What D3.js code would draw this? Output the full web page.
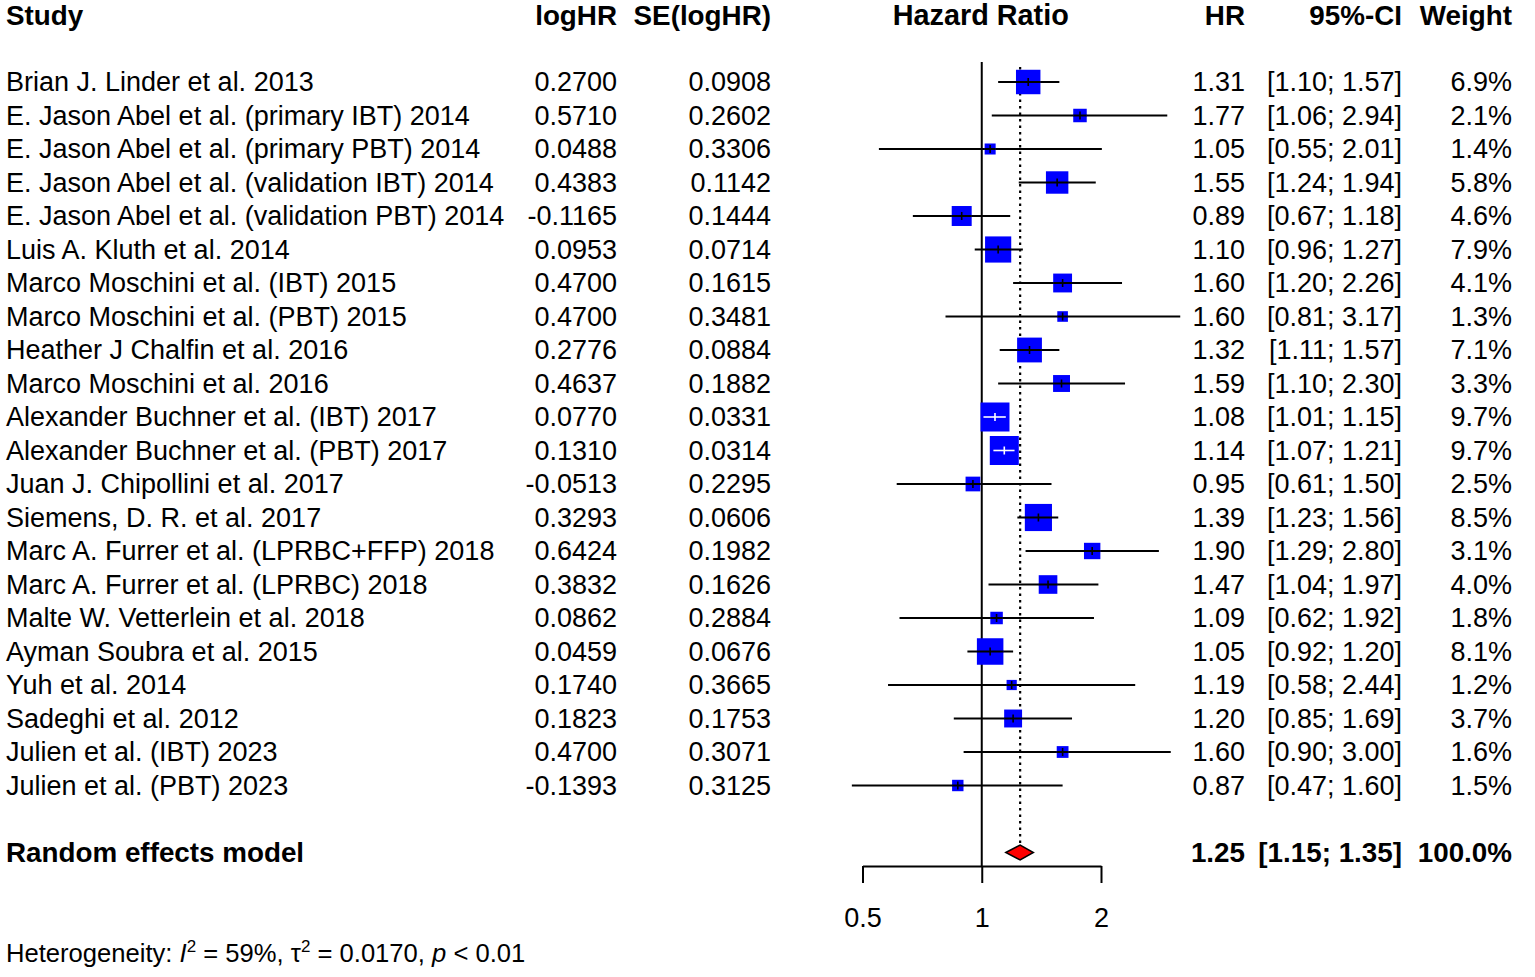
<!DOCTYPE html>
<html>
<head>
<meta charset="utf-8">
<script src="https://cdn.jsdelivr.net/npm/d3@7"></script>
<style>
html,body{margin:0;padding:0;background:#fff;}
svg text{font-family:"Liberation Sans",Arial,sans-serif;fill:#000;}
</style>
</head>
<body>
<svg id="chart" width="1535" height="977"></svg>
<script>
const studies = [
  "Brian J. Linder et al. 2013",
  "E. Jason Abel et al. (primary IBT) 2014",
  "E. Jason Abel et al. (primary PBT) 2014",
  "E. Jason Abel et al. (validation IBT) 2014",
  "E. Jason Abel et al. (validation PBT) 2014",
  "Luis A. Kluth et al. 2014",
  "Marco Moschini et al. (IBT) 2015",
  "Marco Moschini et al. (PBT) 2015",
  "Heather J Chalfin et al. 2016",
  "Marco Moschini et al. 2016",
  "Alexander Buchner et al. (IBT) 2017",
  "Alexander Buchner et al. (PBT) 2017",
  "Juan J. Chipollini et al. 2017",
  "Siemens, D. R. et al. 2017",
  "Marc A. Furrer et al. (LPRBC+FFP) 2018",
  "Marc A. Furrer et al. (LPRBC) 2018",
  "Malte W. Vetterlein et al. 2018",
  "Ayman Soubra et al. 2015",
  "Yuh et al. 2014",
  "Sadeghi et al. 2012",
  "Julien et al. (IBT) 2023",
  "Julien et al. (PBT) 2023"
];
const logHR = ["0.2700","0.5710","0.0488","0.4383","-0.1165","0.0953","0.4700","0.4700","0.2776","0.4637","0.0770","0.1310","-0.0513","0.3293","0.6424","0.3832","0.0862","0.0459","0.1740","0.1823","0.4700","-0.1393"];
const seLogHR = ["0.0908","0.2602","0.3306","0.1142","0.1444","0.0714","0.1615","0.3481","0.0884","0.1882","0.0331","0.0314","0.2295","0.0606","0.1982","0.1626","0.2884","0.0676","0.3665","0.1753","0.3071","0.3125"];
const hr = [1.31,1.77,1.05,1.55,0.89,1.10,1.60,1.60,1.32,1.59,1.08,1.14,0.95,1.39,1.90,1.47,1.09,1.05,1.19,1.20,1.60,0.87];
const ciLow = [1.10,1.06,0.55,1.24,0.67,0.96,1.20,0.81,1.11,1.10,1.01,1.07,0.61,1.23,1.29,1.04,0.62,0.92,0.58,0.85,0.90,0.47];
const ciHigh = [1.57,2.94,2.01,1.94,1.18,1.27,2.26,3.17,1.57,2.30,1.15,1.21,1.50,1.56,2.80,1.97,1.92,1.20,2.44,1.69,3.00,1.60];
const weight = [6.9,2.1,1.4,5.8,4.6,7.9,4.1,1.3,7.1,3.3,9.7,9.7,2.5,8.5,3.1,4.0,1.8,8.1,1.2,3.7,1.6,1.5];
const pooled = {label:"Random effects model", hr:1.25, low:1.15, high:1.35, weight:"100.0%"};
const axisTicks = [0.5, 1, 2];
const headers = {study:"Study", logHR:"logHR", se:"SE(logHR)", plot:"Hazard Ratio", hr:"HR", ci:"95%-CI", w:"Weight"};

const svg = d3.select("#chart");
const FS = 27;
const FSB = 27.8;
const rowH = 33.5, y0 = 15;
const rowY = i => y0 + rowH * (i + 2);
const pooledY = y0 + rowH * 25;
const x = d3.scaleLog().domain([0.5, 2]).range([862.5, 1101]);
const maxW = d3.max(weight);
const boxSize = w => 29 * Math.sqrt(w / maxW);

const col = {study:6, logHR:617, se:771, hr:1245, ci:1402, w:1512};
const fmt2 = d3.format(".2f");
const ciText = (l,h) => "[" + fmt2(l) + "; " + fmt2(h) + "]";

function txt(xp, yp, s, anchor, bold, size) {
  return svg.append("text").attr("x", xp).attr("y", yp).attr("dy","0.35em")
    .attr("text-anchor", anchor || "start")
    .attr("font-size", size || (bold ? FSB : FS))
    .attr("font-weight", bold ? "bold" : "normal").text(s);
}

// headers
txt(col.study, y0, headers.study, "start", true);
txt(col.logHR, y0, headers.logHR, "end", true);
txt(col.se, y0, headers.se, "end", true);
txt(x(1) - 1, y0, headers.plot, "middle", true, 28.8);
txt(col.hr, y0, headers.hr, "end", true);
txt(col.ci, y0, headers.ci, "end", true);
txt(col.w, y0, headers.w, "end", true);

// reference lines
const axisY = 866;
svg.append("line").attr("x1", x(1)).attr("x2", x(1)).attr("y1", 62).attr("y2", axisY)
  .attr("stroke","#000").attr("stroke-width",2);
svg.append("line").attr("x1", x(pooled.hr)).attr("x2", x(pooled.hr)).attr("y1", 67).attr("y2", pooledY - 8)
  .attr("stroke","#000").attr("stroke-width",2.2).attr("stroke-dasharray","2.5,4");

// rows
studies.forEach((s, i) => {
  const y = rowY(i);
  txt(col.study, y, s, "start", false);
  txt(col.logHR, y, logHR[i], "end", false);
  txt(col.se, y, seLogHR[i], "end", false);
  txt(col.hr, y, fmt2(hr[i]), "end", false);
  txt(col.ci, y, ciText(ciLow[i], ciHigh[i]), "end", false);
  txt(col.w, y, weight[i].toFixed(1) + "%", "end", false);

  const b = boxSize(weight[i]);
  const cx = x(hr[i]);
  const x1 = x(ciLow[i]), x2 = x(ciHigh[i]);
  const inside = (x1 >= cx - b/2) && (x2 <= cx + b/2);
  svg.append("line").attr("x1", x1).attr("x2", x2).attr("y1", y).attr("y2", y)
    .attr("stroke","#000").attr("stroke-width",2);
  svg.append("rect").attr("x", cx - b/2).attr("y", y - b/2).attr("width", b).attr("height", b)
    .attr("fill","#0000FF");
  const lc = inside ? "#fff" : "#000";
  if (inside) {
    svg.append("line").attr("x1", x1).attr("x2", x2).attr("y1", y).attr("y2", y)
      .attr("stroke", lc).attr("stroke-width",1.6);
  } else {
    svg.append("line").attr("x1", Math.max(x1, cx - b/2)).attr("x2", Math.min(x2, cx + b/2)).attr("y1", y).attr("y2", y)
      .attr("stroke", "#000").attr("stroke-width",2);
  }
  const th = Math.min(8, b);
  svg.append("line").attr("x1", cx).attr("x2", cx).attr("y1", y - th/2).attr("y2", y + th/2)
    .attr("stroke", lc).attr("stroke-width",1.6);
});

// pooled
txt(col.study, pooledY, pooled.label, "start", true);
txt(col.hr, pooledY, fmt2(pooled.hr), "end", true);
txt(col.ci, pooledY, ciText(pooled.low, pooled.high), "end", true);
txt(col.w, pooledY, pooled.weight, "end", true);
const dh = 7.5;
svg.append("polygon")
  .attr("points", [[x(pooled.low), pooledY],[x(pooled.hr), pooledY - dh],[x(pooled.high), pooledY],[x(pooled.hr), pooledY + dh]].map(p=>p.join(",")).join(" "))
  .attr("fill","#FF0000").attr("stroke","#000").attr("stroke-width",1.5);

// axis
const axis = d3.axisBottom(x).tickValues(axisTicks).tickFormat(d => String(d)).tickSize(17).tickSizeOuter(0).tickPadding(25);
const ag = svg.append("g").attr("transform", `translate(0,${axisY})`).call(axis);
ag.select(".domain").attr("stroke","#000").attr("stroke-width",2);
ag.selectAll(".tick line").attr("stroke","#000").attr("stroke-width",2);
ag.selectAll(".tick text").attr("font-size", FS).attr("font-family", "'Liberation Sans',Arial,sans-serif").attr("fill","#000");

// heterogeneity
const hetBase = 962;
const het = svg.append("text").attr("x", 6).attr("y", hetBase).attr("font-size", 25.6);
het.append("tspan").text("Heterogeneity: ");
het.append("tspan").attr("font-style","italic").text("I");
het.append("tspan").attr("y", hetBase - 10).attr("font-size", 17).text("2");
het.append("tspan").attr("y", hetBase).text(" = 59%, τ");
het.append("tspan").attr("y", hetBase - 10).attr("font-size", 17).text("2");
het.append("tspan").attr("y", hetBase).text(" = 0.0170, ");
het.append("tspan").attr("font-style","italic").text("p");
het.append("tspan").text(" < 0.01");
</script>
</body>
</html>
